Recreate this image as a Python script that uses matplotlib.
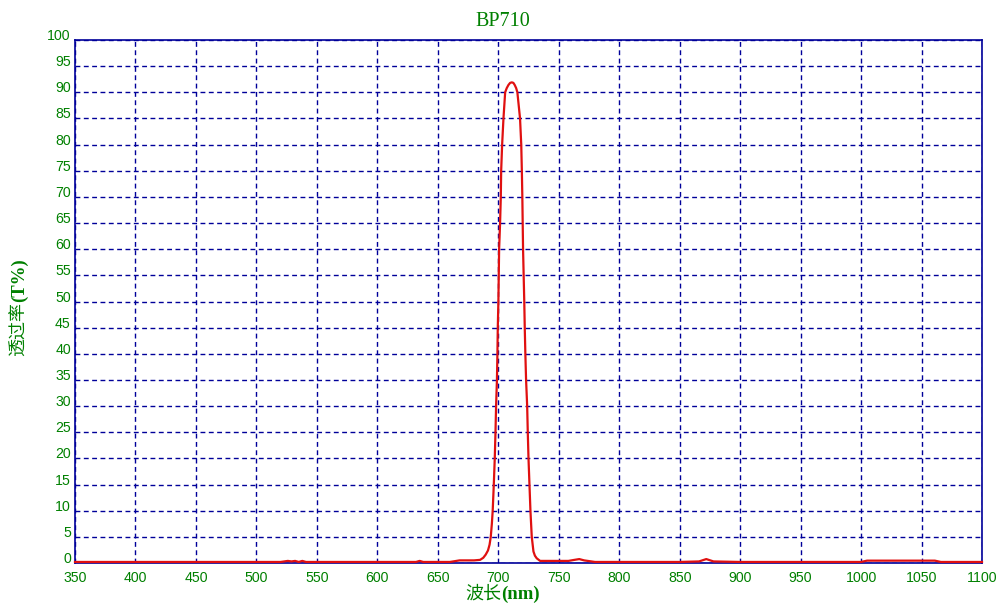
import matplotlib
matplotlib.use("Agg")
import matplotlib.pyplot as plt

# 波长 (nm) / 透过率 (%) —— 从原图读出
wl = [350, 400, 450, 500, 520, 526, 529, 532, 535, 538, 541, 560, 600, 632, 635, 638,
      660, 668, 675, 680, 685, 687.6, 689.6, 691.5, 692.8, 693.8, 694.7, 695.4, 696.3,
      697.1, 697.7, 698.2, 698.9, 699.3, 699.6, 700.1, 700.4, 700.7, 701.5, 702.1, 702.4,
      703.2, 704.3, 705.7, 707.0, 708.4, 709.8, 711.2, 712.5, 713.6, 714.8, 715.8, 718.0,
      719.0, 719.5, 719.9, 720.2, 720.5, 721.0, 721.5, 721.9, 722.4, 723.0, 723.9, 724.4,
      725.0, 725.8, 726.6, 727.7, 729.1, 730.3, 731.8, 734.6, 745, 758, 763, 767, 771,
      780, 850, 866, 872, 878, 900, 1000, 1005, 1061, 1066, 1100]
tr = [0.2, 0.2, 0.2, 0.2, 0.2, 0.4, 0.3, 0.4, 0.2, 0.4, 0.2, 0.2, 0.2, 0.2, 0.4, 0.2,
      0.2, 0.5, 0.5, 0.5, 0.6, 1.0, 1.6, 2.4, 3.5, 5.0, 7.5, 10, 15,
      20, 25, 30, 35, 40, 45, 50, 55, 60, 65, 70, 75,
      80, 85, 90, 90.8, 91.4, 91.8, 91.9, 91.8, 91.4, 90.8, 90, 85,
      80, 75, 70, 65, 60, 55, 50, 45, 40, 35, 30, 25,
      20, 15, 10, 5, 2.2, 1.4, 0.9, 0.4, 0.4, 0.4, 0.6, 0.75, 0.5,
      0.2, 0.2, 0.3, 0.75, 0.3, 0.2, 0.2, 0.45, 0.45, 0.2, 0.2]

xticks = list(range(350, 1101, 50))
yticks = list(range(0, 101, 5))

navy = "#000099"
green = "#008000"

fig = plt.figure(figsize=(10.05, 6.12), dpi=100)
ax = fig.add_axes([75 / 1005, 1 - 563 / 612, (982 - 75) / 1005, (563 - 40) / 612])

ax.plot(wl, tr, color="#e01010", lw=1.6, zorder=3, clip_on=False)

ax.set_xlim(350, 1100)
ax.set_ylim(0, 100)
ax.set_xticks(xticks)
ax.set_yticks(yticks)
ax.grid(True, color=navy, linestyle=(0, (3.5, 2.5)), linewidth=1.0)
for s in ax.spines.values():
    s.set_color(navy)
    s.set_linewidth(1.2)

ax.tick_params(length=0, labelcolor=green, labelsize=10.2)
ax.tick_params(axis="x", pad=6)
ax.tick_params(axis="y", pad=3)
for lab in ax.get_xticklabels() + ax.get_yticklabels():
    lab.set_family("Liberation Sans")
for lab in ax.get_yticklabels():
    lab.set_verticalalignment("baseline")

fig.text(0.5, 1 - 25.7 / 612, "BP710", ha="center", va="baseline", color=green,
         fontsize=14.5, family="Liberation Serif")

# x 轴标题：中文常规 + (nm) 粗体
fig.text(501 / 1005, 1 - 594 / 612, "波长", ha="right", va="center", color=green,
         fontsize=13, family="Noto Sans CJK SC")
fig.text(501 / 1005, 1 - 594 / 612, "(nm)", ha="left", va="center", color=green,
         fontsize=13.5, fontweight="bold", family="Liberation Serif")

# y 轴标题
fig.text(19 / 1005, 1 - 302 / 612, "透过率", ha="center", va="top", color=green,
         fontsize=13, rotation=90, family="Noto Sans CJK SC")
fig.text(19 / 1005, 1 - 302 / 612, "(T%)", ha="center", va="bottom", color=green,
         fontsize=13.5, fontweight="bold", rotation=90, family="Liberation Serif")

plt.savefig("out.png", dpi=100)
plt.close()
